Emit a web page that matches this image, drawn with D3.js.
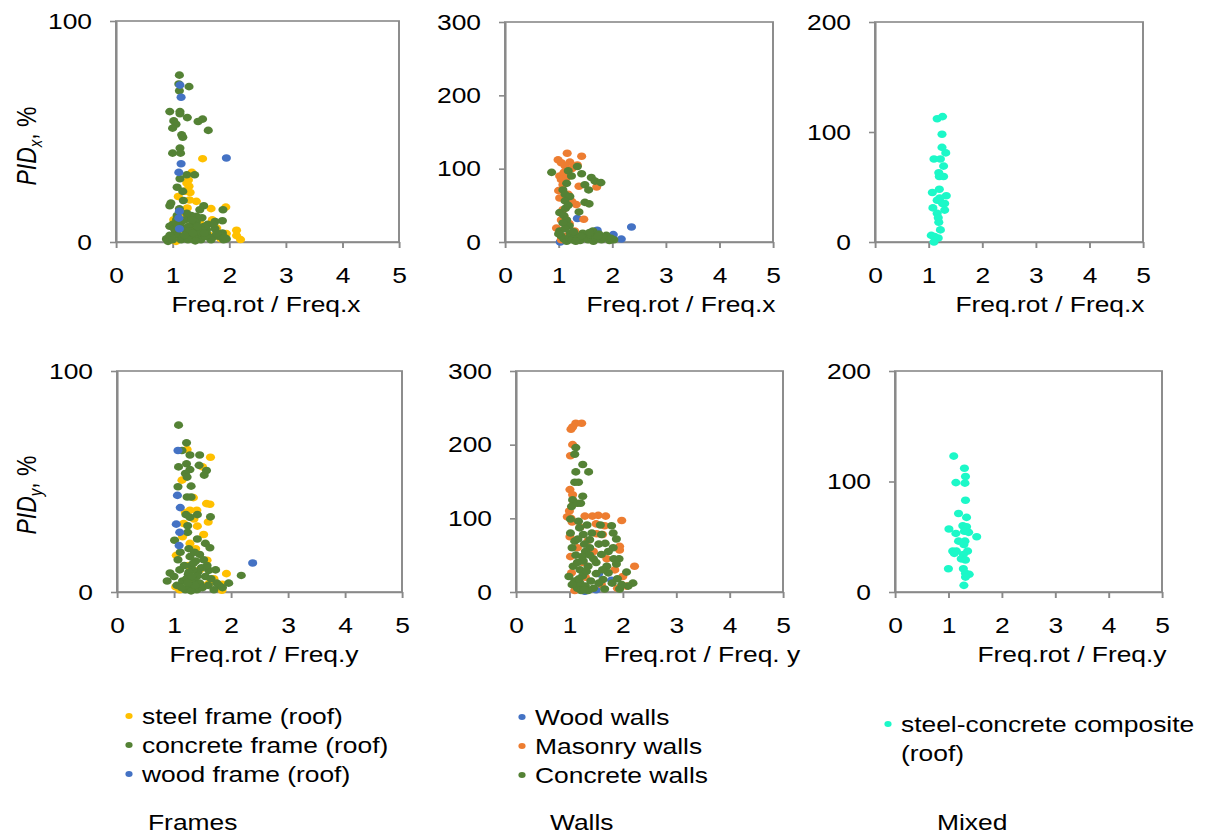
<!DOCTYPE html>
<meta charset="utf-8" />
<script src="https://d3js.org/d3.v7.min.js"></script>
<style>
  body { margin: 0; background: #fff; }
  text { font-family: "Liberation Sans", Arial, sans-serif; fill: #000; }
</style>
<div id="chart"></div>

<script>
  // ---- data: [ratio, PID %] ----
  const steelFrameX = [[1.53,37.7],[1.34,31.5],[1.25,26.7],[1.29,25.2],[1.31,22.4],[1.22,23],[1.42,18.4],[1.68,15.1],[1.94,15.8],[1.26,15.4],[1.02,10.1],[2.13,5.3],[2.13,2.9],[2.2,1.1],[1.78,6.3],[1.48,8.6],[1.1,20.6],[1.06,0.3],[1.5,2.5],[1.2,12],[1.35,6],[1.65,3],[1.85,1.5],[1.12,3],[1.28,28],[1.18,13],[1.38,11],[1.58,7],[1.95,3.8],[1.7,10],[1.3,19]];
  const concreteFrameX = [[1.12,75.5],[1.11,71.5],[1.29,70.3],[1.12,68.4],[0.95,59],[1.13,59],[1.13,58],[1.26,56.3],[1.45,54.5],[1.53,55.6],[1.02,54.8],[1.06,53.3],[1.0,51.5],[1.63,50.5],[1.16,48.5],[1.18,47.4],[1.13,42.5],[1.0,40.2],[1.14,40.2],[1.25,30.4],[1.39,30.4],[1.13,28.6],[1.08,24.8],[1.18,22.9],[0.97,17.6],[0.95,16.4],[1.19,18.8],[1.55,16.4],[1.48,14.6],[1.89,14.6],[1.75,9.3],[1.88,9.6],[1.42,11.6],[1.31,10.4],[1.07,10.1],[0.95,7.1],[1.19,6.3],[1.6,5.6],[1.88,4.1],[0.89,1.4],[0.92,0.3],[1.95,1.4],[1.66,1.8],[1.81,2.6],[1.0,8],[1.05,5],[1.1,3],[1.15,1],[1.2,6],[1.25,4],[1.3,2],[1.35,8],[1.4,5],[1.45,3],[1.5,1],[1.55,7],[1.6,4],[1.7,2],[1.75,6],[1.85,3],[1.9,1],[0.95,3],[1.0,1],[1.08,12],[1.15,9],[1.22,10],[1.28,7],[1.33,12],[1.38,2],[1.42,9],[1.47,5],[1.52,11],[1.62,8],[1.68,1],[1.78,4],[1.12,15],[1.25,13],[1.03,6],[1.18,2],[1.3,5],[1.4,0.5],[1.58,2.5],[1.92,2],[1.27,1],[1.36,4],[1.44,7],[1.21,3],[1.09,7],[1.34,10],[1.56,4],[1.72,8]];
  const woodFrameX = [[1.13,71],[1.15,65.5],[1.95,38],[1.15,35.4],[1.11,31.5],[1.12,13.9],[1.11,10.8],[1.12,6]];

  const woodWallsX = [[2.36,20.5],[2.17,4],[2.02,10],[1.72,16],[1.35,32],[1.03,0],[1.8,5],[1.5,8]];
  const masonryWallsX = [[1.16,121],[1.43,117],[0.99,112],[1.05,108],[1.21,109],[1.12,104],[1.35,105],[1.02,90],[1.05,85],[1.38,76],[1.71,75],[1.02,60],[1.33,51],[1.08,44],[1.47,31],[1.05,30],[0.96,19],[1.1,95],[1.15,88],[1.0,70],[1.18,65],[1.25,55],[1.1,35],[1.2,25],[1.3,15],[1.15,8],[1.05,3],[1.4,6],[1.6,10],[1.25,100],[1.08,78]];
  const concreteWallsX = [[0.87,95],[1.35,103],[1.18,97],[1.24,90],[1.43,93],[1.61,88],[1.68,83],[1.79,81],[1.49,78],[1.56,71],[1.08,71],[1.15,80],[1.12,65],[1.21,62],[1.49,54],[1.57,52],[1.02,40],[1.13,46],[1.38,41],[1.02,15],[1.89,9],[2.03,3],[1.64,15],[1.12,56],[1.18,50],[1.1,36],[1.15,30],[1.2,22],[1.08,26],[1.22,12],[1.05,8],[1.1,4],[1.15,1],[1.2,6],[1.25,3],[1.3,10],[1.35,5],[1.4,2],[1.45,12],[1.5,7],[1.55,3],[1.6,9],[1.65,1],[1.7,5],[1.75,11],[1.8,3],[1.85,6],[1.95,2],[1.28,14],[1.42,8],[1.58,13],[1.12,18],[1.0,11],[1.98,5],[1.73,8],[1.32,1]];

  const mixedX = [[1.16,112],[1.26,114],[1.25,98],[1.25,86],[1.32,81],[1.10,75.5],[1.22,75.5],[1.28,69],[1.19,63],[1.20,59.5],[1.28,59.5],[1.20,48],[1.07,45],[1.33,42],[1.21,40],[1.16,38],[1.26,35],[1.30,35],[1.08,31],[1.30,29],[1.16,26],[1.18,22],[1.19,18],[1.22,11],[1.05,6],[1.11,5],[1.18,3.6],[1.10,0]];

  const steelFrameY = [[1.23,64.5],[1.64,61],[1.14,50.6],[1.5,56.6],[1.57,40],[1.63,39.7],[1.34,42.7],[1.40,37],[1.28,37],[1.2,36],[1.6,31.7],[1.41,29.8],[1.17,31],[1.52,26],[1.28,22],[1.38,19.6],[1.04,16.6],[1.58,14.4],[1.92,8.3],[1.85,3.5],[1.84,0.8],[1.03,2.3],[1.1,1],[1.3,5],[1.5,3],[1.7,6],[1.25,12],[1.45,10],[1.15,25],[1.35,33],[1.62,4]];
  const concreteFrameY = [[1.08,75.5],[1.22,67.5],[1.14,64],[1.28,62],[1.45,62],[1.22,58],[1.08,56.6],[1.28,55.4],[1.44,57.3],[1.57,55],[1.53,52.9],[1.2,53.6],[1.23,52],[1.07,47.6],[1.30,47.9],[1.23,43],[1.30,43],[1.21,35],[1.41,35],[1.64,34],[1.28,33.8],[1.24,30],[1.24,27],[1.41,24],[1.01,23.4],[1.55,22],[1.63,20],[1.11,18],[1.07,14.6],[1.26,19.6],[1.45,17],[1.52,14.6],[1.73,10],[1.61,9.8],[0.93,8.6],[2.18,7.5],[1.96,4],[0.88,5],[1.79,3],[1.0,7],[1.05,3],[1.1,10],[1.15,5],[1.2,1],[1.25,8],[1.3,12],[1.32,3],[1.35,6],[1.38,14],[1.4,1],[1.42,9],[1.45,4],[1.48,11],[1.5,2],[1.55,7],[1.6,3],[1.65,6],[1.7,1],[1.75,4],[1.28,16],[1.33,10],[1.36,18],[1.18,12],[1.22,6],[1.27,2],[1.4,7],[1.58,12],[1.85,2],[1.13,2],[1.3,0.5],[1.26,9],[1.34,13],[1.31,7],[1.37,3],[1.24,4]];
  const woodFrameY = [[1.07,64],[1.06,43.7],[1.11,38.2],[1.04,30.7],[1.10,27],[1.09,21],[2.38,13.1]];

  const woodWallsY = [[1.79,16],[1.5,3],[1.29,1],[1.55,25],[1.2,5]];
  const masonryWallsY = [[1.03,221],[1.12,229],[1.23,229],[1.06,224],[1.06,200],[1.02,185],[1.01,139],[1.06,132],[0.96,102],[1.29,103],[1.43,103],[1.54,104],[1.68,103],[1.98,97],[1.50,92.5],[1.66,90],[1.03,100],[1.01,75],[1.51,79],[1.62,78],[1.94,62],[1.94,57],[2.22,35],[1.02,48],[1.04,26],[2.0,21],[2.07,8],[1.1,2],[1.05,95],[1.08,120],[1.2,88],[1.35,70],[1.15,60],[1.45,55],[1.7,45],[1.85,30],[1.3,20],[1.6,10],[1.9,5],[1.25,40],[1.0,110]];
  const concreteWallsY = [[1.12,196],[1.10,187],[1.25,173],[1.36,163],[1.12,163],[1.10,149],[1.17,149],[1.25,130],[1.06,125],[1.04,116],[1.15,120.5],[1.21,120.5],[1.02,99],[1.17,96],[1.33,91],[1.58,91],[1.79,90],[1.19,87],[1.82,80],[1.88,72],[1.60,78],[1.02,80],[1.10,69],[1.26,78],[1.38,71],[1.67,66],[1.38,60],[1.82,60],[1.73,55],[1.60,51],[1.83,45],[1.93,45],[1.88,38],[1.26,42],[1.07,35],[0.99,21],[2.07,27],[2.19,12],[2.1,8],[1.73,26],[1.63,17],[1.66,4],[1.94,4],[1.05,60],[1.12,50],[1.15,40],[1.2,30],[1.1,15],[1.15,5],[1.2,12],[1.25,22],[1.3,8],[1.35,35],[1.4,15],[1.45,45],[1.5,25],[1.55,65],[1.5,40],[1.45,5],[1.3,55],[1.22,2],[1.35,2],[1.55,12],[1.7,35],[1.8,12],[1.9,18],[1.05,10],[1.28,65],[1.42,80],[1.62,30],[1.98,10],[1.18,18],[1.24,48],[1.32,28],[1.28,3],[1.38,50],[1.16,72]];

  const mixedY = [[1.10,123],[1.30,112],[1.32,104.5],[1.14,99],[1.31,98.5],[1.32,83],[1.19,71],[1.34,67.5],[1.01,57],[1.27,60],[1.34,59],[1.30,55],[1.38,54],[1.14,53],[1.53,50],[1.19,46],[1.31,46],[1.29,43],[1.08,37],[1.15,37],[1.11,35],[1.36,37],[1.28,34],[1.24,30],[1.32,29],[1.0,21],[1.28,21],[1.32,17],[1.39,16],[1.32,13.5],[1.29,6]];

  const xTicks = [0, 1, 2, 3, 4, 5];
  const framesLabels = ["steel frame (roof)", "concrete frame (roof)", "wood frame (roof)"];
  const wallsLabels = ["Wood walls", "Masonry walls", "Concrete walls"];
  const mixedLabels = ["steel-concrete composite", "(roof)"];
  const groupNames = ["Frames", "Walls", "Mixed"];

  const colors = {
    steel: "#ffc000",
    concrete: "#548235",
    wood: "#4472c4",
    masonry: "#ed7d31",
    mixed: "#1cf8c8",
  };
  const gray = "#898989";

  // the original picture is stretched sideways, so draw in a narrower
  // coordinate space and let the viewBox widen everything by K
  const K = 1.2;
  const W = 1207, H = 837;
  const sx = (px) => px / K;

  const svg = d3
    .select("#chart")
    .append("svg")
    .attr("width", W)
    .attr("height", H)
    .attr("viewBox", `0 0 ${W / K} ${H}`)
    .attr("preserveAspectRatio", "none");

  const panels = [
    { box: [116, 399, 21, 242], ymax: 100, title: "Freq.rot / Freq.x", tx: 266, ty: 312,
      series: [[steelFrameX, colors.steel], [concreteFrameX, colors.concrete], [woodFrameX, colors.wood]] },
    { box: [505, 773, 22, 242], ymax: 300, title: "Freq.rot / Freq.x", tx: 681, ty: 312,
      series: [[woodWallsX, colors.wood], [masonryWallsX, colors.masonry], [concreteWallsX, colors.concrete]] },
    { box: [875, 1143, 22, 242], ymax: 200, title: "Freq.rot / Freq.x", tx: 1050, ty: 312,
      series: [[mixedX, colors.mixed]] },
    { box: [117, 402, 371, 592], ymax: 100, title: "Freq.rot / Freq.y", tx: 264, ty: 662,
      series: [[steelFrameY, colors.steel], [concreteFrameY, colors.concrete], [woodFrameY, colors.wood]] },
    { box: [516, 783, 371, 592], ymax: 300, title: "Freq.rot / Freq. y", tx: 702, ty: 662,
      series: [[woodWallsY, colors.wood], [masonryWallsY, colors.masonry], [concreteWallsY, colors.concrete]] },
    { box: [895, 1162, 371, 592], ymax: 200, title: "Freq.rot / Freq.y", tx: 1072, ty: 662,
      series: [[mixedY, colors.mixed]] },
  ];

  panels.forEach(function (p) {
    const [l, r, t, b] = p.box;
    const x = d3.scaleLinear().domain([0, 5]).range([sx(l), sx(r)]);
    const y = d3.scaleLinear().domain([0, p.ymax]).range([b, t]);

    const g = svg.append("g");

    // plot area border
    g.append("rect")
      .attr("x", sx(l))
      .attr("y", t)
      .attr("width", sx(r) - sx(l))
      .attr("height", b - t)
      .attr("fill", "none")
      .attr("stroke", gray)
      .attr("stroke-width", 1.6);

    const xAxis = g
      .append("g")
      .attr("transform", `translate(0, ${b})`)
      .call(
        d3.axisBottom(x)
          .tickValues(xTicks)
          .tickFormat(d3.format("d"))
          .tickSize(6)
          .tickSizeOuter(0)
          .tickPadding(19)
      );

    const yAxis = g
      .append("g")
      .attr("transform", `translate(${sx(l)}, 0)`)
      .call(
        d3.axisLeft(y)
          .tickValues(d3.range(0, p.ymax + 1, 100))
          .tickFormat(d3.format("d"))
          .tickSize(sx(6))
          .tickSizeOuter(0)
          .tickPadding(sx(18))
      );

    [xAxis, yAxis].forEach(function (a) {
      a.select(".domain").attr("stroke", gray).attr("stroke-width", 1.6);
      a.selectAll(".tick line").attr("stroke", gray).attr("stroke-width", 1.6);
      a.selectAll(".tick text")
        .style("font-size", "22px")
        .attr("fill", "#000");
    });

    p.series.forEach(function ([data, color]) {
      g.append("g")
        .selectAll("ellipse")
        .data(data)
        .join("ellipse")
        .attr("cx", (d) => x(d[0]))
        .attr("cy", (d) => y(d[1]))
        .attr("rx", 3.8)
        .attr("ry", 3.8)
        .attr("fill", color);
    });

    g.append("text")
      .attr("x", sx(p.tx))
      .attr("y", p.ty)
      .attr("text-anchor", "middle")
      .style("font-size", "22px")
      .text(p.title);
  });

  // rotated y-axis labels
  [["x", 146], ["y", 495]].forEach(function ([sub, cy]) {
    const lab = svg
      .append("text")
      .attr("transform", `translate(${sx(36)}, ${cy}) rotate(-90)`)
      .attr("text-anchor", "middle")
      .style("font-size", "23px");
    lab.append("tspan").style("font-style", "italic").text("PID");
    lab.append("tspan")
      .style("font-style", "italic")
      .style("font-size", "15px")
      .attr("dy", 5)
      .text(sub);
    lab.append("tspan").attr("dy", -5).text(", %");
  });

  // legends
  function legend(labels, cols, mx, tx, y0) {
    labels.forEach(function (lab, i) {
      const yb = y0 + i * 29;
      svg.append("ellipse")
        .attr("cx", sx(mx))
        .attr("cy", yb - 8)
        .attr("rx", 3)
        .attr("ry", 3)
        .attr("fill", cols[i]);
      svg.append("text")
        .attr("x", sx(tx))
        .attr("y", yb)
        .style("font-size", "22px")
        .text(lab);
    });
  }
  legend(framesLabels, [colors.steel, colors.concrete, colors.wood], 129, 142, 724);
  legend(wallsLabels, [colors.wood, colors.masonry, colors.concrete], 522, 535, 725);

  // mixed legend wraps onto two lines, one marker
  svg.append("ellipse")
    .attr("cx", sx(888))
    .attr("cy", 724)
    .attr("rx", 3)
    .attr("ry", 3)
    .attr("fill", colors.mixed);
  mixedLabels.forEach(function (lab, i) {
    svg.append("text")
      .attr("x", sx(901))
      .attr("y", 732 + i * 29)
      .style("font-size", "22px")
      .text(lab);
  });

  // group captions
  [[148, groupNames[0]], [550, groupNames[1]], [937, groupNames[2]]].forEach(function ([gx, name]) {
    svg.append("text")
      .attr("x", sx(gx))
      .attr("y", 830)
      .style("font-size", "22px")
      .text(name);
  });
</script>
